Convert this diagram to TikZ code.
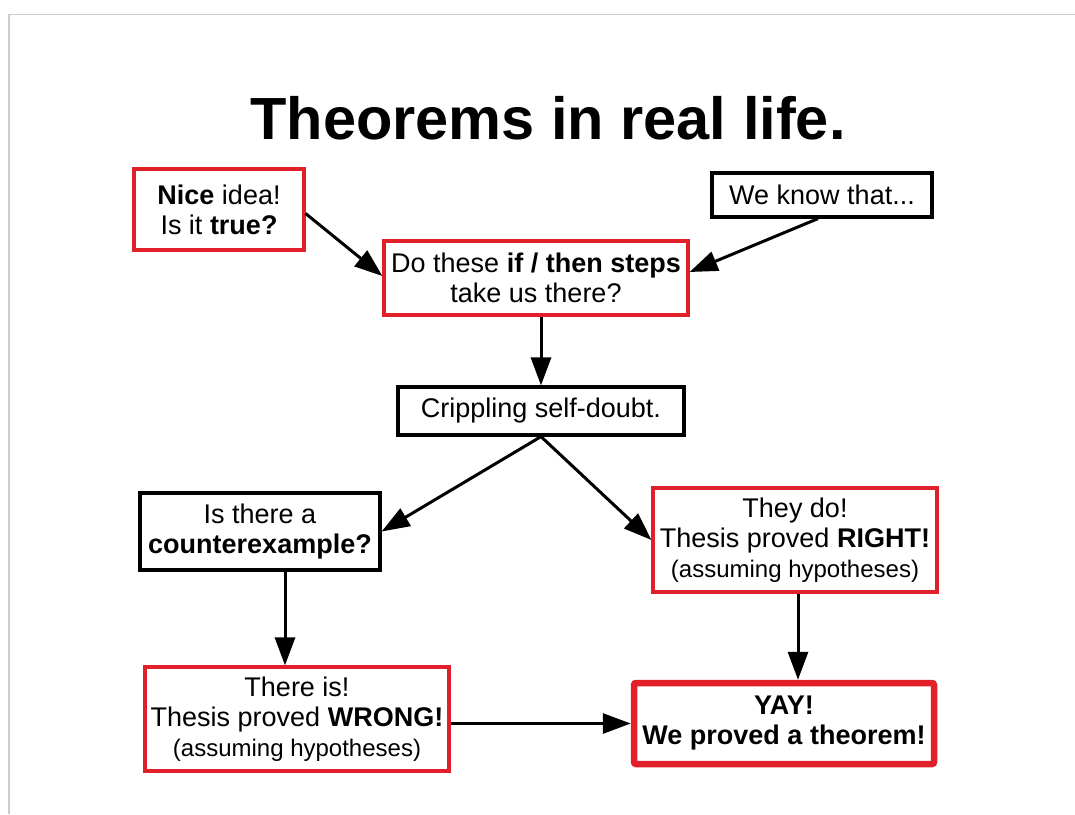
\documentclass[tikz,border=0pt]{standalone}
\usepackage{fontspec}
\setmainfont{Liberation Sans}
\usetikzlibrary{arrows.meta}
\definecolor{boxred}{RGB}{226,32,42}
\tikzset{
	box/.style={draw, line width=3.2pt, align=center, inner sep=0pt,
		font=\fontsize{27}{30}\selectfont},
	redbox/.style={box, draw=boxred},
	blackbox/.style={box, draw=black},
	arr/.style={line width=3pt, -{Triangle[length=28pt, width=20pt]}}
}
\newcommand{\hyp}{{\fontsize{24}{30}\selectfont (assuming hypotheses)}}
\begin{document}
\begin{tikzpicture}[x=1pt, y=-1pt]
		\useasboundingbox (0, 0) rectangle (1075, 814);
		\draw[black!20, line width=1.5pt] (9, 814) -- (9, 14.5) -- (1075, 14.5);
		\node[font=\fontsize{59.5}{62}\selectfont\bfseries] (title) at (548, 118) {Theorems in real life.};
		\node[redbox, minimum width=170, minimum height=81] (idea) at (219, 209.5) {\textbf{Nice} idea!\\ Is it \textbf{true?}};
		\node[blackbox, minimum width=220, minimum height=44] (know) at (822, 195) {We know that...};
		\node[redbox, minimum width=304, minimum height=74] (steps) at (536, 278) {Do these \textbf{if / then steps}\\ take us there?};
		\node[blackbox, minimum width=286, minimum height=48] (doubt) at (541, 411) {Crippling self-doubt.};
		\node[blackbox, minimum width=240, minimum height=77] (counter) at (260, 531.5) {Is there a\\ \textbf{counterexample?}};
		\node[redbox, minimum width=284, minimum height=104] (right) at (795, 540) {They do!\\ Thesis proved \textbf{RIGHT!}\\ \hyp};
		\node[redbox, minimum width=304, minimum height=104] (wrong) at (297, 719) {There is!\\ Thesis proved \textbf{WRONG!}\\ \hyp};
		\node[redbox, line width=6.5pt, rounded corners=2pt, minimum width=300, minimum height=81, font=\fontsize{27}{30}\selectfont\bfseries] (yay) at (784, 723.5) {YAY!\\ We proved a theorem!};
		\draw[arr] ([yshift=-4]idea.east) -- ([yshift=2]steps.west);
		\draw[arr] ([xshift=-4]know.south) -- ([yshift=6]steps.east);
		\draw[arr] ([xshift=5]steps.south) -- ([xshift=5]steps.south |- doubt.north);
		\draw[arr] (doubt.south) -- (counter.east);
		\draw[arr] (doubt.south) -- (right.west);
		\draw[arr] ([xshift=25]counter.south) -- ([xshift=25]counter.south |- wrong.north);
		\draw[arr] ([xshift=3]right.south) -- ([xshift=3]right.south |- yay.north);
		\draw[arr] (wrong.east |- yay.west) -- (yay.west);
	\end{tikzpicture}
\end{document}
